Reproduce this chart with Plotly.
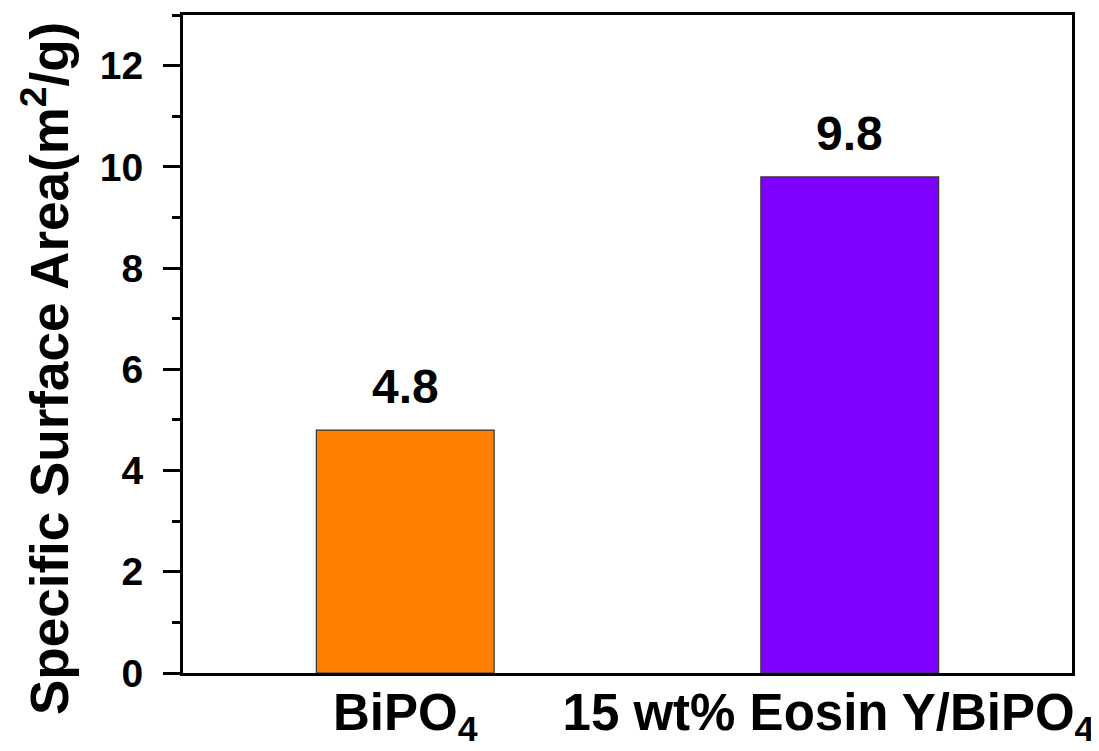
import plotly.graph_objects as go

categories = ["BiPO<sub>4</sub>", "15 wt% Eosin Y/BiPO<sub>4</sub>\u00a0\u00a0\u00a0"]
values = [4.8, 9.8]
colors = ["#FF8000", "#8000FF"]
value_labels = ["4.8", "9.8"]
y_tick_vals = [0, 2, 4, 6, 8, 10, 12]
y_title = "Specific Surface Area(m<sup>2</sup>/g)"

FONT = "Liberation Sans, Arial, sans-serif"

fig = go.Figure()
fig.add_trace(go.Bar(
    x=categories, y=values, width=0.4,
    marker=dict(color=colors, line=dict(color="#333333", width=1.2)),
    showlegend=False,
))

for c, v, t in zip(categories, values, value_labels):
    fig.add_annotation(x=c, y=v, text=t, showarrow=False, yanchor="bottom", yshift=15,
                       font=dict(family=FONT, size=48, color="black", weight="bold"))

# y-axis title as rotated annotation (lets it extend below the plot like the reference)
fig.add_annotation(xref="paper", yref="paper", x=0, y=0.462, xshift=-138,
                   xanchor="center", yanchor="middle", textangle=-90, showarrow=False,
                   text=y_title, borderpad=0,
                   font=dict(family=FONT, size=53, color="black", weight="bold"))

fig.update_layout(
    width=1091, height=743,
    margin=dict(l=175, r=27, t=7, b=78, autoexpand=False),
    paper_bgcolor="white", plot_bgcolor="white",
    font=dict(family=FONT, color="black"),
)
fig.update_xaxes(
    range=[-0.5, 1.5], showline=True, linecolor="black", linewidth=3, mirror=True,
    ticks="", showgrid=False, zeroline=False, automargin=False, ticklabelstandoff=-7,
    tickfont=dict(family=FONT, size=51, color="black", weight="bold"),
)
fig.update_yaxes(
    range=[0, 13], tickvals=y_tick_vals, showline=True, linecolor="black", linewidth=3,
    mirror=True, ticks="outside", ticklen=17, tickwidth=3, tickcolor="black",
    minor=dict(dtick=1, ticks="outside", ticklen=8, tickwidth=3, tickcolor="black"),
    showgrid=False, zeroline=False, automargin=False, ticklabelstandoff=12,
    tickfont=dict(family=FONT, size=39, color="black", weight="bold"),
)

fig.write_html("out.html")
